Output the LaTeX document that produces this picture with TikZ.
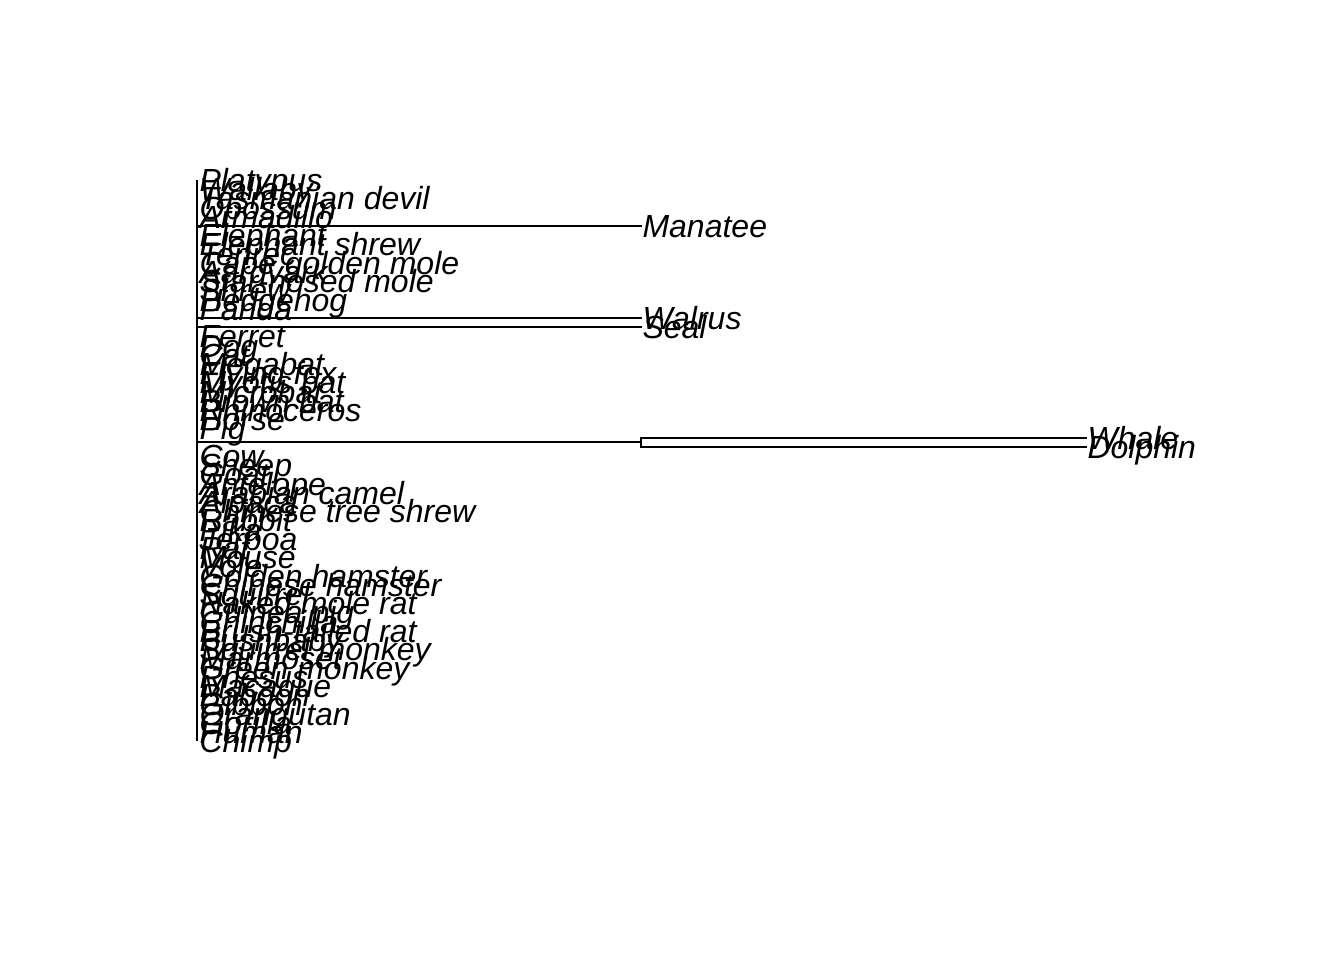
\documentclass[tikz,border=0pt]{standalone}
\usepackage{fontspec}
\setmainfont{Liberation Sans}
\usepackage{tikz}

\tikzset{
  tip/.style={anchor=west, inner sep=0pt, text height=8.6pt, text depth=0pt,
              font=\fontsize{12pt}{14pt}\selectfont\itshape},
  branch/.style={line width=0.75pt}
}

\begin{document}
\begin{tikzpicture}[x=0.375pt, y=-0.375pt]
\useasboundingbox (0,0) rectangle (1344,960);

%% root
\coordinate (rtop) at (197,180);
\coordinate (rbot) at (197,741.2);
\coordinate (sirn) at (197,226);     %% manatee stem
\coordinate (walr) at (197,318);     %% walrus stem
\coordinate (seal) at (197,327.2);   %% seal stem
\coordinate (cets) at (197,442.2);   %% whale+dolphin stem
\coordinate (cetn) at (641,442.2);   %% whale+dolphin node

%% tip labels
\node[tip] (platypus)   at (199,180.0) {Platypus};
\node[tip] (wallaby)    at (199,189.2) {Wallaby};
\node[tip] (tasdevil)   at (199,198.4) {Tasmanian devil};
\node[tip] (opossum)    at (199,207.6) {Opossum};
\node[tip] (armadillo)  at (199,216.8) {Armadillo};
\node[tip] (manatee)    at (642,226.0) {Manatee};
\node[tip] (elephant)   at (199,235.2) {Elephant};
\node[tip] (eleshrew)   at (199,244.4) {Elephant shrew};
\node[tip] (tenrec)     at (199,253.6) {Tenrec};
\node[tip] (goldmole)   at (199,262.8) {Cape golden mole};
\node[tip] (aardvark)   at (199,272.0) {Aardvark};
\node[tip] (starmole)   at (199,281.2) {Star-nosed mole};
\node[tip] (shrew)      at (199,290.4) {Shrew};
\node[tip] (hedgehog)   at (199,299.6) {Hedgehog};
\node[tip] (panda)      at (199,308.8) {Panda};
\node[tip] (walrus)     at (642,318.0) {Walrus};
\node[tip] (sealtip)    at (642,327.2) {Seal};
\node[tip] (ferret)     at (199,336.4) {Ferret};
\node[tip] (dog)        at (199,345.6) {Dog};
\node[tip] (cat)        at (199,354.8) {Cat};
\node[tip] (megabat)    at (199,364.0) {Megabat};
\node[tip] (flyfox)     at (199,373.2) {Flying fox};
\node[tip] (myotis)     at (199,382.4) {Myotis bat};
\node[tip] (microbat)   at (199,391.6) {Microbat};
\node[tip] (brownbat)   at (199,400.8) {Brown bat};
\node[tip] (rhino)      at (199,410.0) {Rhinoceros};
\node[tip] (horse)      at (199,419.2) {Horse};
\node[tip] (pig)        at (199,428.4) {Pig};
\node[tip] (whale)      at (1087,437.6) {Whale};
\node[tip] (dolphin)    at (1087,446.8) {Dolphin};
\node[tip] (cow)        at (199,456.0) {Cow};
\node[tip] (sheep)      at (199,465.2) {Sheep};
\node[tip] (goat)       at (199,474.4) {Goat};
\node[tip] (antelope)   at (199,483.6) {Antelope};
\node[tip] (arabcamel)  at (199,492.8) {Arabian camel};
\node[tip] (alpaca)     at (199,502.0) {Alpaca};
\node[tip] (treeshrew)  at (199,511.2) {Chinese tree shrew};
\node[tip] (rabbit)     at (199,520.4) {Rabbit};
\node[tip] (pika)       at (199,529.6) {Pika};
\node[tip] (jerboa)     at (199,538.8) {Jerboa};
\node[tip] (rat)        at (199,548.0) {Rat};
\node[tip] (mouse)      at (199,557.2) {Mouse};
\node[tip] (vole)       at (199,566.4) {Vole};
\node[tip] (goldham)    at (199,575.6) {Golden hamster};
\node[tip] (chiham)     at (199,584.8) {Chinese hamster};
\node[tip] (squirrel)   at (199,594.0) {Squirrel};
\node[tip] (nakedrat)   at (199,603.2) {Naked mole rat};
\node[tip] (guineapig)  at (199,612.4) {Guinea pig};
\node[tip] (chinchilla) at (199,621.6) {Chinchilla};
\node[tip] (brushrat)   at (199,630.8) {Brush-tailed rat};
\node[tip] (bushbaby)   at (199,640.0) {Bushbaby};
\node[tip] (sqmonkey)   at (199,649.2) {Squirrel monkey};
\node[tip] (marmoset)   at (199,658.4) {Marmoset};
\node[tip] (grmonkey)   at (199,667.6) {Green monkey};
\node[tip] (rhesus)     at (199,676.8) {Rhesus};
\node[tip] (macaque)    at (199,686.0) {Macaque};
\node[tip] (baboon)     at (199,695.2) {Baboon};
\node[tip] (gibbon)     at (199,704.4) {Gibbon};
\node[tip] (orangutan)  at (199,713.6) {Orangutan};
\node[tip] (gorilla)    at (199,722.8) {Gorilla};
\node[tip] (human)      at (199,732.0) {Human};
\node[tip] (chimp)      at (199,741.2) {Chimp};

%% branches
\draw[branch] (rtop) -- (rbot);
\draw[branch] (sirn) -- (manatee.west);
\draw[branch] (walr) -- (walrus.west);
\draw[branch] (seal) -- (sealtip.west);
\draw[branch] (cets) -- (cetn);
\draw[branch] (whale.west) -| (cetn) |- (dolphin.west);
\end{tikzpicture}
\end{document}
